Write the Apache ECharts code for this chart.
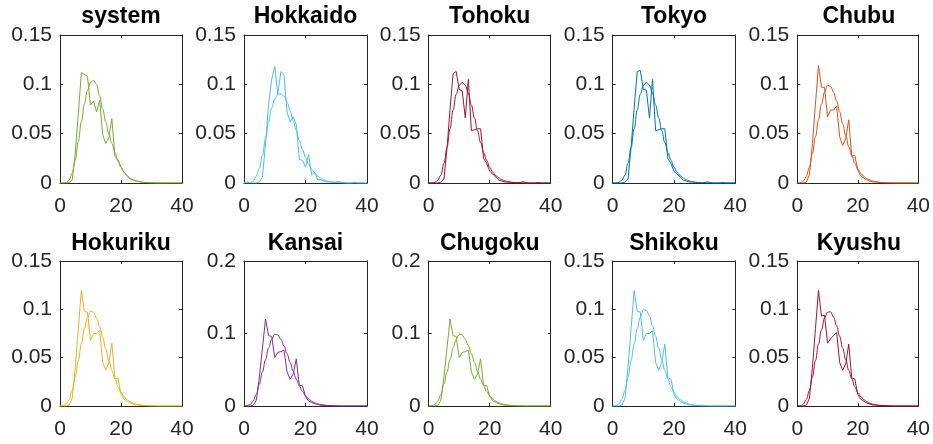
<!DOCTYPE html>
<html><head><meta charset="utf-8">
<script src="https://cdn.jsdelivr.net/npm/echarts@6/dist/echarts.min.js"></script>
<style>html,body{margin:0;padding:0;background:#fff}#c{width:933px;height:444px}</style>
</head><body><div id="c"></div>
<script>
// x positions (bin centres) shared by every panel
const xs = [0,1,2,3,4,5,6,7,8,9,10,11,12,13,14,15,16,17,18,19,20,21,22,23,24,25,26,27,28,29,30,31,32,33,34,35,36,37,38,39,40];

const regions = ['system','Hokkaido','Tohoku','Tokyo','Chubu','Hokuriku','Kansai','Chugoku','Shikoku','Kyushu'];
const colors  = ['#77AC30','#4DBEEE','#A2142F','#0072BD','#D95319','#EDB120','#7E2F8E','#77AC30','#4DBEEE','#A2142F'];
const yMaxes  = [0.15,0.15,0.15,0.15,0.15,0.15,0.2,0.2,0.15,0.15];
const ySteps  = [0.05,0.05,0.05,0.05,0.05,0.05,0.1,0.1,0.05,0.05];
const xTicks  = [0,20,40];

// empirical (jagged) distributions
const systemEmp   = [0,0,0,0.0005,0.003,0.03,0.07,0.112,0.110,0.108,0.079,0.083,0.072,0.084,0.049,0.040,0.046,0.065,0.027,0.024,0.016,0.011,0.007,0.004,0.003,0.002,0.0013,0.0008,0.0005,0.0003,0.0002,0,0,0,0,0,0,0,0,0,0];
const hokkaidoEmp = [0,0.001,0,0,0,0.001,0.006,0.04,0.08,0.105,0.118,0.09,0.113,0.11,0.072,0.062,0.067,0.059,0.024,0.023,0.016,0.029,0.008,0.011,0.003,0.0035,0.002,0.001,0.001,0.0005,0.001,0.0015,0.0005,0,0,0,0.001,0,0,0,0];
const tohokuEmp   = [0,0,0,0,0.001,0.004,0.035,0.075,0.111,0.113,0.095,0.093,0.066,0.105,0.053,0.054,0.055,0.055,0.025,0.02,0.012,0.009,0.006,0.003,0.002,0.001,0.001,0.0005,0.0005,0.0003,0.0005,0.0013,0.0003,0,0,0,0.0005,0,0,0,0];
const tokyoEmp    = [0,0,0,0,0.001,0.004,0.036,0.076,0.113,0.114,0.095,0.094,0.066,0.105,0.053,0.054,0.055,0.055,0.025,0.02,0.012,0.009,0.006,0.003,0.002,0.001,0.001,0.0005,0.0005,0.0003,0.0005,0.0013,0.0003,0,0,0,0.0005,0,0,0,0];
const chubuEmp    = [0,0,0,0.001,0.008,0.04,0.08,0.119,0.097,0.097,0.067,0.074,0.074,0.078,0.047,0.038,0.045,0.064,0.027,0.028,0.013,0.007,0.005,0.003,0.002,0.001,0.001,0.0005,0.0003,0.0002,0.0001,0,0,0,0,0,0,0,0,0,0];
const hokurikuEmp = [0,0,0,0.001,0.008,0.04,0.08,0.1196,0.098,0.097,0.068,0.075,0.075,0.078,0.045,0.037,0.045,0.065,0.028,0.029,0.012,0.007,0.005,0.003,0.002,0.001,0.001,0.0005,0.0003,0.0002,0.0001,0,0,0,0,0,0,0,0,0,0];
const kansaiEmp   = [0,0,0,0.001,0.008,0.04,0.08,0.12,0.097,0.096,0.067,0.074,0.075,0.077,0.047,0.037,0.044,0.065,0.028,0.028,0.013,0.007,0.005,0.003,0.002,0.001,0.001,0.0005,0.0003,0.0002,0.0001,0,0,0,0,0,0,0,0,0,0];
const chugokuEmp  = [0,0,0,0.001,0.008,0.04,0.08,0.12,0.097,0.096,0.067,0.074,0.075,0.077,0.047,0.037,0.044,0.065,0.028,0.028,0.013,0.007,0.005,0.003,0.002,0.001,0.001,0.0005,0.0003,0.0002,0.0001,0,0,0,0,0,0,0,0,0,0];
const shikokuEmp  = [0,0,0,0.001,0.008,0.04,0.08,0.1196,0.098,0.097,0.068,0.075,0.075,0.078,0.045,0.037,0.045,0.064,0.029,0.028,0.012,0.007,0.005,0.003,0.002,0.001,0.001,0.0005,0.0003,0.0002,0.0001,0,0,0,0,0,0,0,0,0,0];
const kyushuEmp   = [0,0,0,0.001,0.008,0.04,0.08,0.1196,0.093,0.094,0.065,0.0695,0.073,0.076,0.045,0.037,0.0435,0.064,0.029,0.028,0.012,0.007,0.005,0.003,0.002,0.001,0.001,0.0005,0.0003,0.0002,0.0001,0,0,0,0,0,0,0,0,0,0];

// fitted (smooth) distributions
const systemFit   = [0,0,0.0005,0.003,0.010,0.023,0.042,0.062,0.080,0.094,0.102,0.104,0.100,0.088,0.075,0.062,0.050,0.040,0.031,0.022,0.016,0.011,0.0075,0.005,0.0033,0.0021,0.0013,0.0008,0.0005,0.0003,0.0002,0.0001,0,0,0,0,0,0,0,0,0];
const hokkaidoFit = [0,0,0.0003,0.002,0.007,0.015,0.028,0.045,0.062,0.076,0.085,0.09,0.0905,0.088,0.082,0.073,0.063,0.053,0.043,0.034,0.026,0.019,0.014,0.010,0.007,0.0048,0.0032,0.0021,0.0014,0.0009,0.0006,0.0004,0.0002,0.0001,0,0,0,0,0,0,0];
const tohokuFit   = [0,0,0.0005,0.003,0.008,0.02,0.036,0.055,0.074,0.09,0.099,0.102,0.099,0.091,0.079,0.066,0.053,0.041,0.031,0.023,0.016,0.011,0.0075,0.005,0.0033,0.0021,0.0013,0.0008,0.0005,0.0003,0.0002,0.0001,0,0,0,0,0,0,0,0,0];
const tokyoFit    = [0,0,0.0005,0.003,0.008,0.02,0.036,0.055,0.074,0.09,0.099,0.102,0.099,0.091,0.079,0.066,0.053,0.041,0.031,0.023,0.016,0.011,0.0075,0.005,0.0033,0.0021,0.0013,0.0008,0.0005,0.0003,0.0002,0.0001,0,0,0,0,0,0,0,0,0];
const chubuFit    = [0,0.0003,0.002,0.007,0.016,0.03,0.047,0.064,0.08,0.092,0.099,0.098,0.092,0.083,0.072,0.06,0.048,0.037,0.028,0.02,0.014,0.0097,0.0066,0.0044,0.0029,0.0019,0.0012,0.0008,0.0005,0.0003,0.0002,0.0001,0,0,0,0,0,0,0,0,0];
const hokurikuFit = [0,0.0003,0.002,0.007,0.016,0.03,0.047,0.064,0.08,0.091,0.098,0.097,0.091,0.082,0.071,0.059,0.047,0.037,0.028,0.02,0.014,0.0097,0.0066,0.0044,0.0029,0.0019,0.0012,0.0008,0.0005,0.0003,0.0002,0.0001,0,0,0,0,0,0,0,0,0];
const kansaiFit   = [0,0.0003,0.002,0.007,0.016,0.03,0.047,0.064,0.08,0.092,0.099,0.098,0.092,0.083,0.072,0.06,0.048,0.037,0.028,0.02,0.014,0.0097,0.0066,0.0044,0.0029,0.0019,0.0012,0.0008,0.0005,0.0003,0.0002,0.0001,0,0,0,0,0,0,0,0,0];
const chugokuFit  = [0,0.0003,0.002,0.007,0.016,0.03,0.047,0.064,0.08,0.092,0.099,0.098,0.092,0.083,0.072,0.06,0.048,0.037,0.028,0.02,0.014,0.0097,0.0066,0.0044,0.0029,0.0019,0.0012,0.0008,0.0005,0.0003,0.0002,0.0001,0,0,0,0,0,0,0,0,0];
const shikokuFit  = [0,0.0003,0.002,0.007,0.016,0.03,0.047,0.064,0.08,0.092,0.0995,0.099,0.093,0.083,0.072,0.06,0.048,0.037,0.028,0.02,0.014,0.0097,0.0066,0.0044,0.0029,0.0019,0.0012,0.0008,0.0005,0.0003,0.0002,0.0001,0,0,0,0,0,0,0,0,0];
const kyushuFit   = [0,0.0003,0.002,0.007,0.016,0.03,0.047,0.064,0.079,0.091,0.097,0.0975,0.092,0.083,0.072,0.06,0.048,0.037,0.028,0.02,0.014,0.0097,0.0066,0.0044,0.0029,0.0019,0.0012,0.0008,0.0005,0.0003,0.0002,0.0001,0,0,0,0,0,0,0,0,0];

const empSeries = [systemEmp,hokkaidoEmp,tohokuEmp,tokyoEmp,chubuEmp,hokurikuEmp,kansaiEmp,chugokuEmp,shikokuEmp,kyushuEmp];
const fitSeries = [systemFit,hokkaidoFit,tohokuFit,tokyoFit,chubuFit,hokurikuFit,kansaiFit,chugokuFit,shikokuFit,kyushuFit];

// ---- layout ----
const colLeft  = [60, 244, 428.7, 612.7, 797.3];
const colRight = [182, 367, 550.7, 735.3, 920.3];
const rowTop   = [35, 261];
const rowBot   = [183, 406];
const W = 933, H = 444;
const FONT = 'Liberation Sans, Arial, Helvetica, sans-serif';
const AX = '#262626';

const grids = [], xAxes = [], yAxes = [], xAxes2 = [], yAxes2 = [], series = [], titles = [];
for (let i = 0; i < 10; i++) {
  const r = Math.floor(i / 5), c = i % 5;
  grids.push({left: colLeft[c], top: rowTop[r], width: colRight[c] - colLeft[c], height: rowBot[r] - rowTop[r], containLabel: false});
  const xBase = {gridIndex: i, type: 'value', min: xTicks[0], max: xTicks[xTicks.length-1], interval: xTicks[1]-xTicks[0],
    axisLine: {show: true, onZero: false, lineStyle: {color: AX, width: 1}},
    axisTick: {show: true, inside: true, length: 3, lineStyle: {color: AX}},
    splitLine: {show: false}};
  const yBase = {gridIndex: i, type: 'value', min: 0, max: yMaxes[i], interval: ySteps[i],
    axisLine: {show: true, onZero: false, lineStyle: {color: AX, width: 1}},
    axisTick: {show: true, inside: true, length: 3, lineStyle: {color: AX}},
    splitLine: {show: false}};
  xAxes.push(Object.assign({}, xBase, {position: 'bottom', axisLabel: {show: true, color: AX, fontSize: 21, fontFamily: FONT, margin: 13}}));
  yAxes.push(Object.assign({}, yBase, {position: 'left', axisLabel: {show: true, color: AX, fontSize: 21, fontFamily: FONT, margin: 8}}));
  xAxes2.push(Object.assign({}, xBase, {position: 'top', axisLabel: {show: false}}));
  yAxes2.push(Object.assign({}, yBase, {position: 'right', axisLabel: {show: false}}));
  titles.push({text: regions[i], left: (colLeft[c] + colRight[c]) / 2, top: r === 0 ? 5 : 232, textAlign: 'center', padding: 0,
    textStyle: {fontSize: 23, fontWeight: 'bold', color: '#000', fontFamily: FONT}});
  series.push({type: 'line', xAxisIndex: i, yAxisIndex: i, showSymbol: false, symbol: 'none', animation: false,
    lineStyle: {color: colors[i], width: 1}, data: xs.map((x, k) => [x, fitSeries[i][k]]), smooth: 0.4, smoothMonotone: 'x'});
  series.push({type: 'line', xAxisIndex: i, yAxisIndex: i, showSymbol: false, symbol: 'none', animation: false,
    lineStyle: {color: colors[i], width: 1}, data: xs.map((x, k) => [x, empSeries[i][k]])});
}

const chart = echarts.init(document.getElementById('c'), null, {renderer: 'canvas', width: W, height: H});
chart.setOption({
  animation: false,
  backgroundColor: '#fff',
  title: titles,
  grid: grids,
  xAxis: xAxes.concat(xAxes2),
  yAxis: yAxes.concat(yAxes2),
  series: series
});
</script>
</body></html>
